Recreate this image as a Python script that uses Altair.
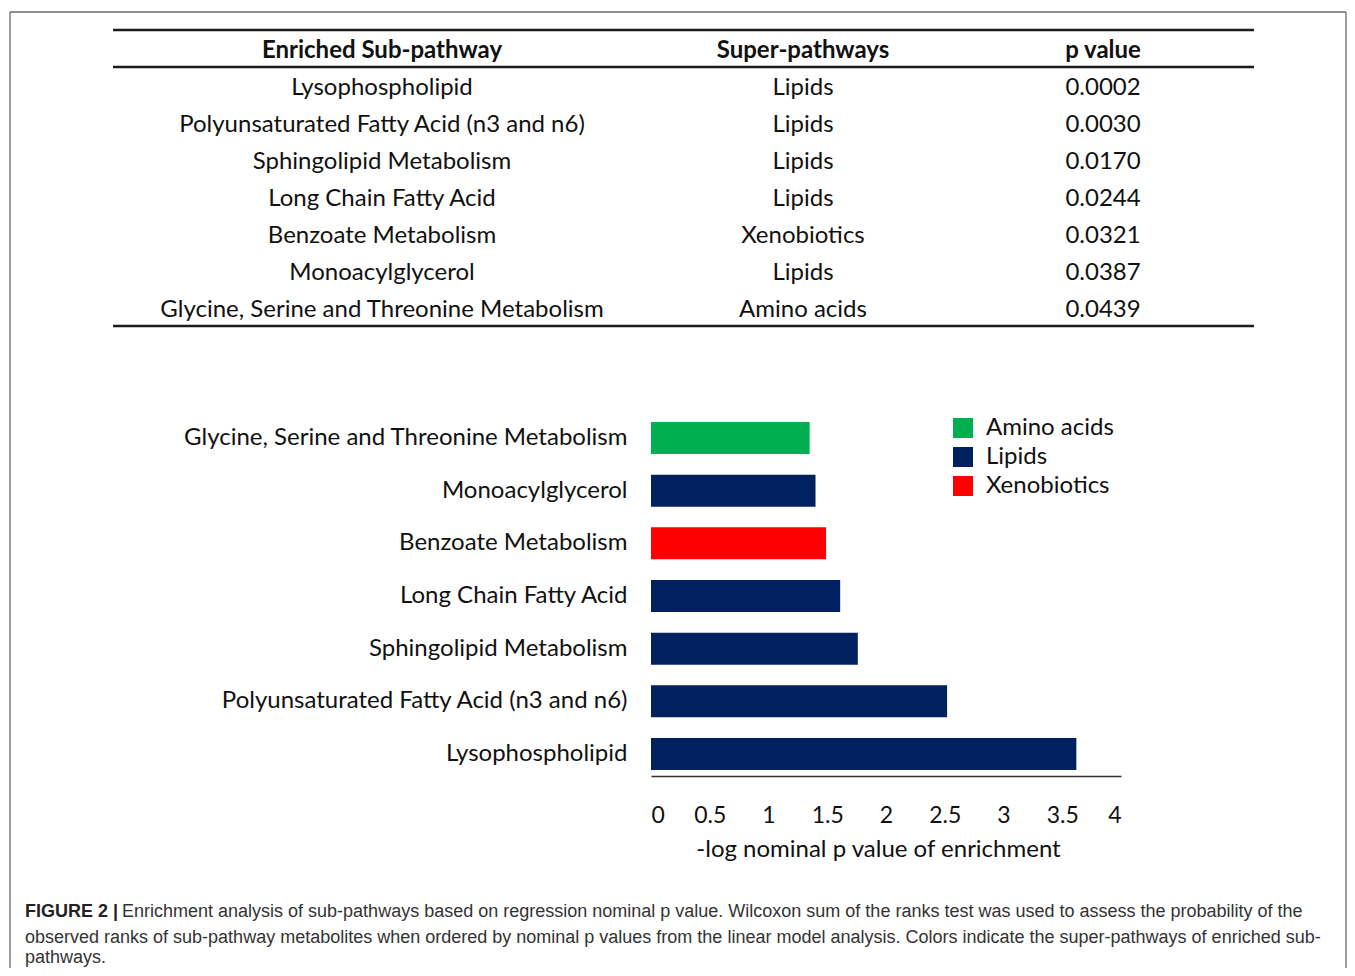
import altair as alt
import pandas as pd

# ---------------- data ----------------
subpathways = [
    "Lysophospholipid",
    "Polyunsaturated Fatty Acid (n3 and n6)",
    "Sphingolipid Metabolism",
    "Long Chain Fatty Acid",
    "Benzoate Metabolism",
    "Monoacylglycerol",
    "Glycine, Serine and Threonine Metabolism",
]
super_pathways = ["Lipids", "Lipids", "Lipids", "Lipids", "Xenobiotics", "Lipids", "Amino acids"]
p_values = ["0.0002", "0.0030", "0.0170", "0.0244", "0.0321", "0.0387", "0.0439"]
neg_log_p = [3.62, 2.52, 1.76, 1.61, 1.49, 1.40, 1.35]

headers = ["Enriched Sub-pathway", "Super-pathways", "p value"]
legend_domain = ["Amino acids", "Lipids", "Xenobiotics"]
legend_colors = ["#00b050", "#002060", "#ff0000"]
x_ticks = [0, 0.5, 1, 1.5, 2, 2.5, 3, 3.5, 4]
x_title = "-log nominal p value of enrichment"

caption_bold = "FIGURE 2 |"
caption_lines = [
    "Enrichment analysis of sub-pathways based on regression nominal p value. Wilcoxon sum of the ranks test was used to assess the probability of the",
    "observed ranks of sub-pathway metabolites when ordered by nominal p values from the linear model analysis. Colors indicate the super-pathways of enriched sub-",
    "pathways.",
]

# ---------------- layout ----------------
W, H = 1337, 956
FONT = "Lato"
CAP_FONT = "Liberation Sans"
FS = 24
TXT = "#111111"

df = pd.DataFrame({
    "sub": subpathways,
    "super": super_pathways,
    "p": p_values,
    "val": neg_log_p,
    "row": list(range(len(subpathways))),
})
one = pd.DataFrame({"k": [0]})


def rule(x, x2, y, y2, color, sw):
    enc = {"x": alt.value(x), "y": alt.value(y)}
    if x2 is not None:
        enc["x2"] = alt.value(x2)
    if y2 is not None:
        enc["y2"] = alt.value(y2)
    return alt.Chart(one).mark_rule(color=color, strokeWidth=sw).encode(**enc)


# border (left, top, right)
border = alt.layer(
    rule(0, None, 0, H + 10, "#6a6a6a", 1.3),
    rule(0, W - 1, 0, None, "#6a6a6a", 1.3),
    rule(W - 1, None, 0, H + 10, "#6a6a6a", 1.3),
)

table_rules = alt.layer(
    rule(103, 1244, 18, None, "#1a1a1a", 2.5),
    rule(103, 1244, 55, None, "#1a1a1a", 2.5),
    rule(103, 1244, 314, None, "#1a1a1a", 2.5),
)

col_x = [372, 793, 1093]

header_layer = alt.layer(*[
    alt.Chart(one).mark_text(font=FONT, fontSize=FS, fontWeight="bold", color=TXT,
                             align="center", baseline="middle")
    .encode(x=alt.value(cx), y=alt.value(39), text=alt.value(h))
    for h, cx in zip(headers, col_x)
])

row_y = alt.Y("row:Q", scale=alt.Scale(domain=[0, 6], range=[76, 298]), axis=None)

table_text = alt.layer(*[
    alt.Chart(df).mark_text(font=FONT, fontSize=FS, color=TXT, align="center", baseline="middle")
    .encode(x=alt.value(cx), y=row_y, text=alt.Text(f"{field}:N"))
    for field, cx in zip(["sub", "super", "p"], col_x)
])

# bar chart
ybar = alt.Y(
    "sub:N",
    sort=list(reversed(subpathways)),
    scale=alt.Scale(range=[400, 768], paddingInner=0.392, paddingOuter=0.19),
    axis=alt.Axis(orient="left", offset=-641, domain=False, ticks=False, grid=False,
                  labelFontSize=FS, labelFont=FONT, labelColor=TXT, labelPadding=24,
                  labelLimit=700, title=None),
)
xbar = alt.X(
    "val:Q",
    scale=alt.Scale(domain=[0, 4], range=[641, 1111], nice=False),
    axis=alt.Axis(orient="bottom", offset=-188 - (H - 952), values=x_ticks, format="~g",
                  ticks=False, grid=False, domainColor="#333333", domainWidth=1.5,
                  labelFontSize=23, labelFont=FONT, labelColor=TXT, labelPadding=28,
                  title=x_title, titleFontSize=FS, titleFont=FONT, titleFontWeight="normal",
                  titleColor=TXT, titlePadding=10, titleX=868),
)
bars = alt.Chart(df).mark_bar().encode(
    x=xbar,
    y=ybar,
    color=alt.Color(
        "super:N",
        scale=alt.Scale(domain=legend_domain, range=legend_colors),
        legend=alt.Legend(orient="none", legendX=941, legendY=404, title=None,
                          symbolType="square", symbolSize=400, symbolStrokeWidth=0,
                          labelFontSize=FS, labelFont=FONT, labelColor=TXT,
                          rowPadding=5, labelOffset=11, padding=0),
    ),
)

# caption
CAP_Y = [900, 926, 946]
caption = alt.layer(
    alt.Chart(one).mark_text(font=CAP_FONT, fontSize=18, fontWeight="bold", color="#222222",
                             align="left", baseline="middle")
    .encode(x=alt.value(15), y=alt.value(CAP_Y[0]), text=alt.value(caption_bold)),
    alt.Chart(one).mark_text(font=CAP_FONT, fontSize=18, color="#333333",
                             align="left", baseline="middle")
    .encode(x=alt.value(112), y=alt.value(CAP_Y[0]), text=alt.value(caption_lines[0])),
    alt.Chart(one).mark_text(font=CAP_FONT, fontSize=18, color="#333333",
                             align="left", baseline="middle")
    .encode(x=alt.value(15), y=alt.value(CAP_Y[1]), text=alt.value(caption_lines[1])),
    alt.Chart(one).mark_text(font=CAP_FONT, fontSize=18, color="#333333",
                             align="left", baseline="middle")
    .encode(x=alt.value(15), y=alt.value(CAP_Y[2]), text=alt.value(caption_lines[2])),
)

chart = (
    alt.layer(border, table_rules, header_layer, table_text, bars, caption)
    .resolve_scale(x="independent", y="independent")
    .properties(width=W, height=H, autosize=alt.AutoSizeParams(type="none"),
                padding={"left": 2, "top": 4, "right": 0, "bottom": 0})
    .configure_view(stroke=None)
)

chart.save("out.html", embed_options={"renderer": "svg", "actions": False})
